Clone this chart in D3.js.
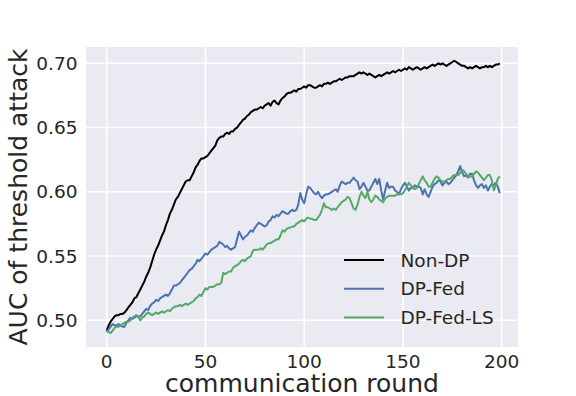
<!DOCTYPE html>
<html>
<head>
<meta charset="utf-8">
<script src="https://cdn.jsdelivr.net/npm/d3@7"></script>
<style>
  body { margin: 0; background: #fff; }
  text { font-family: "DejaVu Sans", sans-serif; fill: #262626; }
</style>
</head>
<body>
<div id="vis"></div>
<script>
// data: attack AUC per communication round (0..199)
const seriesNames = ["Non-DP", "DP-Fed", "DP-Fed-LS"];
const seriesColors = ["#000000", "#4C72B0", "#55A868"];
const xTicks = [0, 50, 100, 150, 200];
const yTicks = [0.50, 0.55, 0.60, 0.65, 0.70];

const nonDP = [
  0.492, 0.496, 0.499, 0.501, 0.503, 0.504, 0.504, 0.505, 0.505, 0.506,
  0.508, 0.510, 0.512, 0.514, 0.517, 0.518, 0.521, 0.524, 0.527, 0.530,
  0.534, 0.537, 0.541, 0.546, 0.551, 0.555, 0.558, 0.562, 0.566, 0.569,
  0.574, 0.578, 0.583, 0.586, 0.590, 0.594, 0.596, 0.599, 0.602, 0.605,
  0.608, 0.609, 0.609, 0.612, 0.615, 0.619, 0.621, 0.624, 0.626, 0.626,
  0.627, 0.628, 0.630, 0.632, 0.634, 0.636, 0.640, 0.642, 0.643, 0.643,
  0.645, 0.646, 0.645, 0.647, 0.647, 0.649, 0.650, 0.652, 0.654, 0.656,
  0.657, 0.659, 0.660, 0.662, 0.663, 0.664, 0.664, 0.665, 0.666, 0.665,
  0.667, 0.668, 0.669, 0.667, 0.670, 0.671, 0.669, 0.668, 0.671, 0.673,
  0.674, 0.676, 0.677, 0.677, 0.678, 0.679, 0.678, 0.680, 0.680, 0.681,
  0.682, 0.681, 0.683, 0.683, 0.682, 0.681, 0.681, 0.682, 0.683, 0.682,
  0.684, 0.684, 0.685, 0.684, 0.685, 0.686, 0.686, 0.687, 0.688, 0.687,
  0.688, 0.689, 0.689, 0.690, 0.690, 0.690, 0.691, 0.692, 0.693, 0.692,
  0.693, 0.692, 0.691, 0.692, 0.691, 0.690, 0.689, 0.690, 0.691, 0.690,
  0.691, 0.692, 0.693, 0.692, 0.693, 0.694, 0.693, 0.694, 0.695, 0.694,
  0.695, 0.696, 0.695, 0.697, 0.696, 0.695, 0.696, 0.697, 0.696, 0.695,
  0.696, 0.697, 0.696, 0.697, 0.698, 0.699, 0.698, 0.699, 0.700, 0.699,
  0.700, 0.699, 0.698, 0.699, 0.700, 0.701, 0.702, 0.701, 0.700, 0.699,
  0.698, 0.698, 0.697, 0.696, 0.697, 0.696, 0.697, 0.698, 0.697, 0.696,
  0.697, 0.697, 0.698, 0.697, 0.698, 0.697, 0.698, 0.699, 0.699, 0.700
];

const dpFed = [
  0.491, 0.493, 0.495, 0.497, 0.496, 0.496, 0.497, 0.496, 0.495, 0.495,
  0.498, 0.500, 0.502, 0.501, 0.502, 0.503, 0.503, 0.503, 0.505, 0.507,
  0.509, 0.508, 0.511, 0.513, 0.514, 0.516, 0.515, 0.517, 0.518, 0.519,
  0.520, 0.519, 0.521, 0.524, 0.527, 0.527, 0.528, 0.529, 0.531, 0.533,
  0.535, 0.537, 0.539, 0.540, 0.542, 0.544, 0.547, 0.546, 0.548, 0.550,
  0.552, 0.551, 0.553, 0.555, 0.556, 0.557, 0.558, 0.561, 0.560, 0.559,
  0.557, 0.558, 0.556, 0.555, 0.556, 0.557, 0.563, 0.569, 0.566, 0.563,
  0.565, 0.566, 0.568, 0.570, 0.569, 0.572, 0.574, 0.576, 0.575, 0.574,
  0.573, 0.574, 0.577, 0.578, 0.581, 0.580, 0.582, 0.581, 0.583, 0.585,
  0.584, 0.583, 0.583, 0.585, 0.586, 0.585, 0.586, 0.590, 0.599, 0.594,
  0.591, 0.598, 0.604, 0.603, 0.601, 0.599, 0.598, 0.600, 0.597, 0.595,
  0.597, 0.598, 0.598, 0.599, 0.600, 0.601, 0.602, 0.600, 0.605, 0.608,
  0.607, 0.606, 0.607, 0.607, 0.609, 0.611, 0.609, 0.608, 0.602, 0.604,
  0.607, 0.604, 0.601, 0.601, 0.604, 0.607, 0.610, 0.606, 0.610, 0.601,
  0.594, 0.601, 0.607, 0.603, 0.604, 0.604, 0.601, 0.600, 0.598, 0.602,
  0.605, 0.607, 0.604, 0.601, 0.603, 0.603, 0.605, 0.604, 0.604, 0.603,
  0.598, 0.602, 0.598, 0.596, 0.600, 0.604, 0.606, 0.607, 0.609, 0.608,
  0.605, 0.607, 0.608, 0.606, 0.607, 0.609, 0.611, 0.613, 0.616, 0.620,
  0.615, 0.612, 0.613, 0.611, 0.614, 0.614, 0.609, 0.605, 0.603, 0.605,
  0.606, 0.603, 0.605, 0.601, 0.604, 0.606, 0.605, 0.607, 0.604, 0.599
];

const dpFedLS = [
  0.491, 0.491, 0.490, 0.492, 0.494, 0.495, 0.495, 0.496, 0.497, 0.498,
  0.499, 0.499, 0.500, 0.502, 0.503, 0.504, 0.503, 0.500, 0.502, 0.503,
  0.505, 0.506, 0.505, 0.504, 0.505, 0.506, 0.505, 0.506, 0.507, 0.506,
  0.507, 0.508, 0.507, 0.509, 0.510, 0.511, 0.511, 0.512, 0.511, 0.512,
  0.513, 0.512, 0.513, 0.514, 0.515, 0.517, 0.518, 0.520, 0.519, 0.522,
  0.525, 0.524, 0.526, 0.526, 0.526, 0.527, 0.528, 0.528, 0.529, 0.537,
  0.536, 0.537, 0.538, 0.538, 0.541, 0.542, 0.543, 0.544, 0.546, 0.547,
  0.546, 0.548, 0.549, 0.550, 0.554, 0.555, 0.555, 0.555, 0.556, 0.555,
  0.557, 0.559, 0.560, 0.560, 0.561, 0.562, 0.563, 0.563, 0.566, 0.570,
  0.569, 0.571, 0.572, 0.572, 0.573, 0.573, 0.575, 0.576, 0.577, 0.578,
  0.577, 0.579, 0.580, 0.579, 0.579, 0.578, 0.578, 0.580, 0.582, 0.586,
  0.591, 0.588, 0.588, 0.587, 0.586, 0.587, 0.586, 0.588, 0.590, 0.592,
  0.593, 0.594, 0.596, 0.595, 0.591, 0.587, 0.586, 0.590, 0.596, 0.600,
  0.597, 0.595, 0.600, 0.594, 0.592, 0.594, 0.597, 0.596, 0.594, 0.593,
  0.592, 0.595, 0.596, 0.597, 0.597, 0.597, 0.597, 0.598, 0.598, 0.598,
  0.599, 0.601, 0.604, 0.607, 0.605, 0.603, 0.602, 0.603, 0.606, 0.609,
  0.612, 0.609, 0.607, 0.604, 0.604, 0.607, 0.610, 0.612, 0.611, 0.609,
  0.608, 0.608, 0.609, 0.610, 0.610, 0.612, 0.613, 0.613, 0.613, 0.615,
  0.617, 0.616, 0.614, 0.612, 0.612, 0.612, 0.614, 0.616, 0.615, 0.613,
  0.611, 0.609, 0.611, 0.613, 0.613, 0.609, 0.601, 0.605, 0.610, 0.612
];

const allSeries = [nonDP, dpFed, dpFedLS];

// frame
const width = 576, height = 396;
const plotLeft = 86, plotRight = 518, plotTop = 47, plotBottom = 347;

let svg = d3.select("#vis").append("svg")
  .attr("width", width)
  .attr("height", height);

// scales (0 -> 106.7px, 200 -> 501.7px; 0.5 -> 320.3px, 0.7 -> 63.3px)
let xScale = d3.scaleLinear().domain([0, 200]).range([106.7, 501.7]);
let yScale = d3.scaleLinear().domain([0.5, 0.7]).range([320.3, 63.3]);

// background
svg.append("rect")
  .attr("x", plotLeft).attr("y", plotTop)
  .attr("width", plotRight - plotLeft).attr("height", plotBottom - plotTop)
  .attr("fill", "#EAEAF2");

// grid
let grid = svg.append("g");
grid.selectAll(".gx").data(xTicks).enter().append("line")
  .attr("x1", d => xScale(d)).attr("x2", d => xScale(d))
  .attr("y1", plotTop).attr("y2", plotBottom)
  .attr("stroke", "#fff").attr("stroke-width", 1.6);
grid.selectAll(".gy").data(yTicks).enter().append("line")
  .attr("y1", d => yScale(d)).attr("y2", d => yScale(d))
  .attr("x1", plotLeft).attr("x2", plotRight)
  .attr("stroke", "#fff").attr("stroke-width", 1.6);

// tick labels
svg.append("g").selectAll("text").data(xTicks).enter().append("text")
  .attr("x", d => xScale(d)).attr("y", 367.5)
  .attr("text-anchor", "middle")
  .style("font-size", "18.5px")
  .text(d => d);

svg.append("g").selectAll("text").data(yTicks).enter().append("text")
  .attr("x", 77.5).attr("y", d => yScale(d))
  .attr("dy", "0.36em")
  .attr("text-anchor", "end")
  .style("font-size", "18.5px")
  .text(d => d.toFixed(2));

// axis labels
svg.append("text")
  .attr("x", (plotLeft + plotRight) / 2).attr("y", 391.5)
  .attr("text-anchor", "middle")
  .style("font-size", "25px")
  .text("communication round");

svg.append("text")
  .attr("transform", "translate(27," + (plotTop + plotBottom) / 2 + ") rotate(-90)")
  .attr("text-anchor", "middle")
  .style("font-size", "25px")
  .text("AUC of threshold attack");

// lines
let line = d3.line()
  .x((d, i) => xScale(i))
  .y(d => yScale(d));

let plot = svg.append("g");
allSeries.forEach((s, k) => {
  plot.append("path")
    .datum(s)
    .attr("d", line)
    .attr("fill", "none")
    .attr("stroke", seriesColors[k])
    .attr("stroke-width", 2)
    .attr("stroke-linejoin", "round");
});

// legend
let legend = svg.append("g");
seriesNames.forEach((name, k) => {
  let ly = 260 + k * 28.8;
  legend.append("line")
    .attr("x1", 344).attr("x2", 384)
    .attr("y1", ly).attr("y2", ly)
    .attr("stroke", seriesColors[k])
    .attr("stroke-width", 2);
  legend.append("text")
    .attr("x", 400.5).attr("y", ly)
    .attr("dy", "0.36em")
    .style("font-size", "18.5px")
    .text(name);
});
</script>
</body>
</html>
